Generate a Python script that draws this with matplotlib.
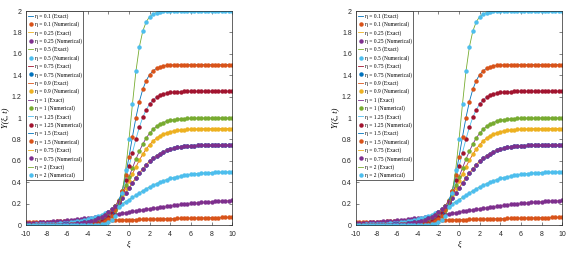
import numpy as np
import matplotlib
matplotlib.use('Agg')
import matplotlib.pyplot as plt
from matplotlib.ticker import FormatStrFormatter

plt.rcParams['axes.unicode_minus'] = False
plt.rcParams['font.family'] = ['Liberation Sans', 'DejaVu Sans']

# grid of xi values (61 points from -10 to 10)
xi = np.linspace(-10, 10, 61)

# values, one list per eta
y_01 = [0.027, 0.027, 0.028, 0.029, 0.029, 0.030, 0.031, 0.031, 0.032, 0.033,
        0.033, 0.034, 0.035, 0.036, 0.037, 0.037, 0.038, 0.039, 0.040, 0.040,
        0.041, 0.042, 0.043, 0.044, 0.045, 0.045, 0.046, 0.047, 0.048, 0.049,
        0.050, 0.050, 0.051, 0.052, 0.053, 0.054, 0.054, 0.055, 0.056, 0.057,
        0.058, 0.059, 0.059, 0.060, 0.061, 0.062, 0.063, 0.063, 0.064, 0.065,
        0.066, 0.066, 0.067, 0.068, 0.069, 0.069, 0.070, 0.071, 0.071, 0.072,
        0.073]
y_025 = [0.018, 0.020, 0.021, 0.023, 0.025, 0.027, 0.029, 0.031, 0.033, 0.035,
         0.038, 0.041, 0.044, 0.047, 0.050, 0.054, 0.057, 0.061, 0.065, 0.069,
         0.073, 0.078, 0.082, 0.087, 0.092, 0.096, 0.101, 0.106, 0.112, 0.117,
         0.122, 0.127, 0.132, 0.138, 0.143, 0.148, 0.153, 0.158, 0.162, 0.167,
         0.172, 0.176, 0.180, 0.184, 0.188, 0.192, 0.196, 0.199, 0.203, 0.206,
         0.209, 0.211, 0.214, 0.217, 0.219, 0.221, 0.223, 0.225, 0.227, 0.229,
         0.230]
y_05 = [0.003, 0.004, 0.004, 0.005, 0.006, 0.007, 0.008, 0.010, 0.011, 0.013,
        0.016, 0.018, 0.022, 0.025, 0.030, 0.035, 0.040, 0.047, 0.055, 0.063,
        0.073, 0.084, 0.096, 0.110, 0.125, 0.141, 0.159, 0.177, 0.197, 0.217,
        0.238, 0.258, 0.279, 0.299, 0.319, 0.338, 0.356, 0.372, 0.387, 0.401,
        0.414, 0.425, 0.435, 0.444, 0.452, 0.458, 0.464, 0.470, 0.474, 0.478,
        0.481, 0.484, 0.486, 0.488, 0.490, 0.492, 0.493, 0.494, 0.495, 0.496,
        0.496]
y_075 = [0.000, 0.000, 0.001, 0.001, 0.001, 0.001, 0.002, 0.002, 0.003, 0.003,
         0.004, 0.006, 0.007, 0.009, 0.012, 0.015, 0.019, 0.024, 0.031, 0.039,
         0.050, 0.062, 0.078, 0.098, 0.121, 0.148, 0.180, 0.217, 0.257, 0.301,
         0.347, 0.394, 0.440, 0.484, 0.525, 0.563, 0.596, 0.624, 0.648, 0.668,
         0.685, 0.698, 0.709, 0.718, 0.725, 0.730, 0.734, 0.738, 0.740, 0.743,
         0.744, 0.746, 0.747, 0.747, 0.748, 0.748, 0.749, 0.749, 0.749, 0.749,
         0.750]
y_09 = [0.000, 0.000, 0.000, 0.000, 0.000, 0.000, 0.001, 0.001, 0.001, 0.001,
        0.002, 0.003, 0.003, 0.005, 0.006, 0.008, 0.011, 0.015, 0.020, 0.027,
        0.036, 0.048, 0.063, 0.084, 0.109, 0.141, 0.181, 0.228, 0.283, 0.344,
        0.410, 0.477, 0.543, 0.605, 0.662, 0.710, 0.751, 0.785, 0.812, 0.833,
        0.849, 0.862, 0.872, 0.879, 0.884, 0.888, 0.891, 0.894, 0.895, 0.896,
        0.897, 0.898, 0.899, 0.899, 0.899, 0.899, 0.900, 0.900, 0.900, 0.900,
        0.900]
y_1 = [0.000, 0.000, 0.000, 0.000, 0.000, 0.000, 0.000, 0.000, 0.001, 0.001,
       0.001, 0.001, 0.002, 0.003, 0.004, 0.005, 0.008, 0.011, 0.015, 0.021,
       0.028, 0.039, 0.054, 0.074, 0.100, 0.134, 0.178, 0.232, 0.296, 0.370,
       0.450, 0.533, 0.615, 0.690, 0.756, 0.813, 0.858, 0.894, 0.922, 0.943,
       0.958, 0.970, 0.978, 0.984, 0.989, 0.992, 0.994, 0.996, 0.997, 0.998,
       0.998, 0.999, 0.999, 0.999, 1.000, 1.000, 1.000, 1.000, 1.000, 1.000,
       1.000]
y_125 = [0.000, 0.000, 0.000, 0.000, 0.000, 0.000, 0.000, 0.000, 0.000, 0.000,
         0.000, 0.000, 0.001, 0.001, 0.001, 0.002, 0.003, 0.004, 0.007, 0.010,
         0.015, 0.023, 0.034, 0.051, 0.075, 0.111, 0.160, 0.228, 0.316, 0.424,
         0.547, 0.677, 0.802, 0.914, 1.006, 1.078, 1.131, 1.169, 1.195, 1.213,
         1.226, 1.234, 1.239, 1.243, 1.245, 1.247, 1.248, 1.249, 1.249, 1.249,
         1.250, 1.250, 1.250, 1.250, 1.250, 1.250, 1.250, 1.250, 1.250, 1.250,
         1.250]
y_15 = [0.000, 0.000, 0.000, 0.000, 0.000, 0.000, 0.000, 0.000, 0.000, 0.000,
        0.000, 0.000, 0.000, 0.000, 0.000, 0.001, 0.001, 0.002, 0.003, 0.005,
        0.007, 0.012, 0.020, 0.033, 0.053, 0.086, 0.137, 0.213, 0.321, 0.465,
        0.638, 0.825, 1.002, 1.153, 1.268, 1.350, 1.406, 1.441, 1.464, 1.478,
        1.487, 1.492, 1.495, 1.497, 1.498, 1.499, 1.499, 1.500, 1.500, 1.500,
        1.500, 1.500, 1.500, 1.500, 1.500, 1.500, 1.500, 1.500, 1.500, 1.500,
        1.500]
y_2 = [0.000, 0.000, 0.000, 0.000, 0.000, 0.000, 0.000, 0.000, 0.000, 0.000,
       0.000, 0.000, 0.000, 0.000, 0.000, 0.000, 0.000, 0.000, 0.000, 0.001,
       0.002, 0.003, 0.007, 0.013, 0.024, 0.047, 0.089, 0.166, 0.300, 0.512,
       0.803, 1.133, 1.435, 1.664, 1.812, 1.899, 1.947, 1.972, 1.986, 1.993,
       1.996, 1.998, 1.999, 2.000, 2.000, 2.000, 2.000, 2.000, 2.000, 2.000,
       2.000, 2.000, 2.000, 2.000, 2.000, 2.000, 2.000, 2.000, 2.000, 2.000,
       2.000]

eta_labels = ['0.1', '0.25', '0.5', '0.75', '0.9', '1', '1.25', '1.5', '0.75', '2']
series = [y_01, y_025, y_05, y_075, y_09, y_1, y_125, y_15, y_075, y_2]

# MATLAB default colour order
mat_colors = ['#0072BD', '#D95319', '#EDB120', '#7E2F8E', '#77AC30', '#4DBEEE', '#A2142F']

fig = plt.figure(figsize=(5.76, 2.56), dpi=100)
ax_left = fig.add_axes([0.045, 0.121, 0.358, 0.836])
ax_right = fig.add_axes([0.618, 0.121, 0.358, 0.836])

for ax in (ax_left, ax_right):
    k = 0
    for lab, y in zip(eta_labels, series):
        c_line = mat_colors[k % 7]
        c_mark = mat_colors[(k + 1) % 7]
        k += 2
        ax.plot(xi, y, '-', color=c_line, lw=0.6,
                label='\u03b7 = ' + lab + ' (Exact)')
        ax.plot(xi, y, 'o', linestyle='none', color=c_mark, mec=c_mark,
                ms=2.2, label='\u03b7 = ' + lab + ' (Numerical)')

    ax.set_xlim(-10, 10)
    ax.set_ylim(0, 2)
    ax.set_xticks(np.arange(-10, 11, 2))
    ax.set_yticks(np.arange(0, 2.01, 0.2))
    ax.yaxis.set_major_formatter(FormatStrFormatter('%g'))
    ax.tick_params(direction='in', length=2, width=0.4, labelsize=5,
                   top=True, right=True, colors='#262626')
    ax.tick_params(axis='x', pad=4)
    ax.tick_params(axis='y', pad=3)
    for sp in ax.spines.values():
        sp.set_linewidth(0.5)
        sp.set_color('#262626')
    ax.set_xlabel('\u03be', fontsize=6, family='Liberation Serif',
                  style='italic', labelpad=2)
    ax.set_ylabel('Y(\u03be, t)', fontsize=6, family='Liberation Serif',
                  style='italic', labelpad=2)

    leg = ax.legend(loc='upper left', prop={'family': 'Liberation Serif', 'size': 4.0},
                    frameon=True, fancybox=False, edgecolor='#262626',
                    borderpad=0.3, labelspacing=0.47, handlelength=0.9,
                    handletextpad=0.3, borderaxespad=0.08, framealpha=1)
    leg.get_frame().set_linewidth(0.5)

fig.savefig('out.png', dpi=100, facecolor='white')
